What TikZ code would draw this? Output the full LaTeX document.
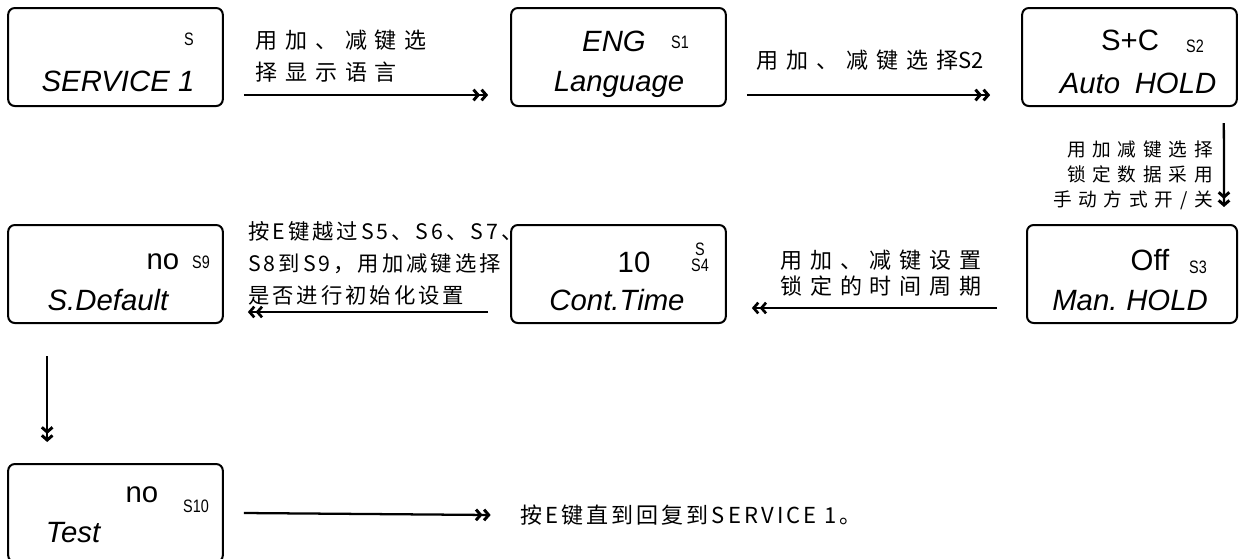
\documentclass[tikz,border=0pt]{standalone}
\usepackage{fontspec}
\setmainfont{Liberation Sans}
\newfontfamily\cjk[LetterSpace=36]{Noto Sans CJK SC}
\newfontfamily\cjktight[LetterSpace=14]{Noto Sans CJK SC}
\newfontfamily\cjkplain{Noto Sans CJK SC}
\newfontfamily\tagfont[FakeStretch=0.8]{Liberation Sans}
\newcommand\lat[1]{{\cjkplain #1}}
\usetikzlibrary{arrows.meta, positioning}

\begin{document}
\begin{tikzpicture}[
  x=0.75pt, y=-0.75pt,
  screen/.style={draw, line width=1.5pt, rounded corners=5pt, minimum width=161pt, minimum height=73.5pt, inner sep=0pt},
  value/.style={anchor=base, inner sep=0pt, font=\fontsize{22}{24}\selectfont},
  title/.style={anchor=base, inner sep=0pt, font=\fontsize{22}{24}\selectfont\itshape},
  tag/.style={anchor=base, inner sep=0pt, font=\tagfont\fontsize{13.5}{14}\selectfont},
  note/.style={inner sep=0pt, font=\cjk\fontsize{16.5}{24}\selectfont},
  flow/.style={line width=1.7pt, -{Straight Barb[length=3.5pt,width=8pt,line width=2.2pt] Straight Barb[length=3.5pt,width=8pt,line width=2.2pt]}},
  back/.style={line width=1.1pt, -{Straight Barb[length=3.5pt,width=8pt,line width=2pt] Straight Barb[length=3.5pt,width=8pt,line width=2pt]}}
]
\useasboundingbox (0,0) rectangle (1241,558);

% display screens
\node[screen] (svc) at (115.5,57) {};
\node[screen] (lang) at (618.5,57) {};
\node[screen] (auto) at (1129.5,57) {};
\node[screen] (dflt) at (115.5,274) {};
\node[screen] (cont) at (618.5,274) {};
\node[screen, minimum width=157.5pt] (man) at (1132,274) {};
\node[screen] (test) at (115.5,513) {};

% screen texts
\node[tag] (svc-s) at (189,45) {S};
\node[title] (svc-t) at (118,91) {SERVICE 1};
\node[title] (lang-v) at (614,51) {ENG};
\node[tag] (lang-s) at (680,48) {S1};
\node[title] (lang-t) at (619,91) {Language};
\node[value] (auto-v) at (1130,50) {S+C};
\node[tag] (auto-s) at (1195,52) {S2};
\node[title] (auto-t) at (1138,93) {Auto\hspace{0.5em}HOLD};
\node[value] (dflt-v) at (163,269) {no};
\node[tag] (dflt-s) at (201,268) {S9};
\node[title] (dflt-t) at (108,310) {S.Default};
\node[value] (cont-v) at (634,272) {10};
\node[tag] (cont-s1) at (700,255) {S};
\node[tag] (cont-s2) at (700,271) {S4};
\node[title] (cont-t) at (617,310) {Cont.Time};
\node[value] (man-v) at (1150,270) {Off};
\node[tag] (man-s) at (1198,273) {S3};
\node[title] (man-t) at (1130,310) {Man.\hspace{0.3em}HOLD};
\node[value] (test-v) at (142,502) {no};
\node[tag] (test-s) at (196,512) {S10};
\node[title] (test-t) at (73,542) {Test};

% notes
\node[note, align=left, anchor=west] (n1) at (255,56) {用加、减键选\\择显示语言};
\node[note] (n2) at (870,60) {用加、减键选择\lat{S2}};
\node[note, align=right, anchor=east, font=\cjk\fontsize{14}{18.75}\selectfont] (n3) at (1213,175) {用加减键选择\\锁定数据采用\\手动方式开/关};
\node[note, align=center, font=\cjk\fontsize{16.5}{20}\selectfont] (n4) at (881,273) {用加、减键设置\\锁定的时间周期};
\node[note, align=left, anchor=west, font=\cjktight\fontsize{16}{24}\selectfont] (n5) at (248,263) {按E键越过S5、S6、S7、\\S8到S9，用加减键选择\\是否进行初始化设置};
\node[note, anchor=west, font=\cjktight\fontsize{16.5}{20}\selectfont] (n6) at (520,515) {按E键直到回复到SERVICE 1。};

% connectors
\draw[flow] ([shift={(20,38)}]svc.east) -- ([shift={(-22,38)}]lang.west);
\draw[flow] ([shift={(20,38)}]lang.east) -- ([shift={(-31,38)}]auto.west);
\draw[flow] ([shift={(-14,16)}]auto.south east) -- ([shift={(-14,-17)}]man.north east);
\draw[back] ([shift={(-29,34)}]man.west) -- ([shift={(25,34)}]cont.east);
\draw[back] ([shift={(-22,38)}]cont.west) -- ([shift={(24,38)}]dflt.east);
\draw[flow] ([shift={(40,32)}]dflt.south west) -- ([shift={(40,-21)}]test.north west);
\draw[flow] ([xshift=15pt]test.east) -- ([xshift=-22pt]n6.west);

\end{tikzpicture}
\end{document}
